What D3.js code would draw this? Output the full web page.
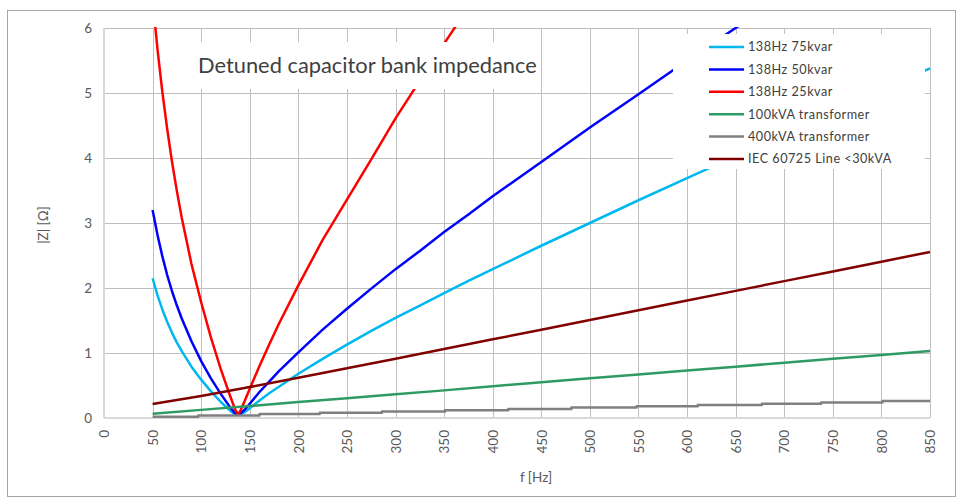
<!DOCTYPE html>
<html><head><meta charset="utf-8">
<script src="https://cdn.jsdelivr.net/npm/d3@7"></script>
<style>body{margin:0;background:#fff}svg{display:block}text{font-family:Lato,"Liberation Sans",sans-serif}</style>
</head><body>
<script>
// ---------- data ----------
const title = "Detuned capacitor bank impedance";
const xLabel = "f [Hz]";
const yLabel = "|Z| [\u03A9]";
const xTicks = [0,50,100,150,200,250,300,350,400,450,500,550,600,650,700,750,800,850];
const yTicks = [0,1,2,3,4,5,6];
const seriesNames = ["138Hz 75kvar","138Hz 50kvar","138Hz 25kvar","100kVA transformer","400kVA transformer","IEC 60725 Line <30kVA"];
const seriesColors = ["#00B8F0","#0000FF","#FF0000","#2E9A64","#808080","#800000"];

const freqCap = [50,55,60,65,70,75,80,90,100,110,120,130,135,138,140,145,150,160,170,180,200,225,250,275,300,325,350,375,400,450,500,550,600,650,700,750,800,850];
const cap75 = [2.15,1.89,1.67,1.48,1.31,1.16,1.03,0.79,0.59,0.41,0.25,0.11,0.05,0.05,0.055,0.09,0.15,0.27,0.38,0.48,0.68,0.91,1.13,1.34,1.54,1.73,1.92,2.11,2.29,2.65,3.00,3.35,3.69,4.03,4.37,4.71,5.05,5.38];
const cap50 = [3.20,2.82,2.49,2.20,1.95,1.73,1.53,1.18,0.875,0.61,0.375,0.16,0.07,0.05,0.065,0.13,0.22,0.40,0.56,0.72,1.01,1.36,1.68,1.99,2.29,2.57,2.86,3.13,3.41,3.94,4.47,4.98,5.50,6.00,6.51,null,null,null];
const cap25 = [6.45,5.68,5.02,4.45,3.94,3.49,3.08,2.37,1.78,1.24,0.76,0.33,0.13,0.06,0.10,0.27,0.45,0.80,1.13,1.45,2.04,2.74,3.36,3.98,4.61,5.19,5.76,6.32,null,null,null,null,null,null,null,null,null,null];

const freqLin = [50,100,150,200,250,300,350,400,450,500,550,600,650,700,750,800,850];
const trafo100 = [0.065,0.125,0.185,0.245,0.305,0.365,0.425,0.49,0.55,0.61,0.67,0.73,0.79,0.85,0.91,0.97,1.03];
const lineIEC = [0.215,0.337,0.476,0.619,0.766,0.913,1.061,1.21,1.359,1.508,1.657,1.807,1.956,2.106,2.255,2.405,2.555];

const freqStep = [50,97,160,222,286,351,416,481,548,611,677,738,801,850];
const trafo400 = [0.02,0.04,0.06,0.08,0.10,0.12,0.14,0.16,0.18,0.20,0.22,0.24,0.26,0.26];

// ---------- chart ----------
const W = 962, H = 503;
const svg = d3.select("body").append("svg").attr("width", W).attr("height", H);
svg.append("rect").attr("width", W).attr("height", H).attr("fill", "#fff");
svg.append("rect").attr("x", 7.5).attr("y", 10.5).attr("width", 948).attr("height", 486)
  .attr("fill", "none").attr("stroke", "#a6a6a6").attr("stroke-width", 1);

const x = d3.scaleLinear().domain([0, 850]).range([104, 930]);
const y = d3.scaleLinear().domain([0, 6]).range([418, 28]);

// gridlines
const gx = svg.append("g").attr("transform", "translate(0,418)")
  .call(d3.axisBottom(x).tickValues(xTicks.slice(1)).tickSize(-390).tickFormat(""));
gx.select(".domain").remove();
gx.selectAll("line").attr("stroke", "#bfbfbf").attr("shape-rendering", "crispEdges");
const gy = svg.append("g").attr("transform", "translate(104,0)")
  .call(d3.axisLeft(y).tickValues(yTicks.slice(1)).tickSize(-826).tickFormat(""));
gy.select(".domain").remove();
gy.selectAll("line").attr("stroke", "#bfbfbf").attr("shape-rendering", "crispEdges");

// axis lines
svg.append("line").attr("x1", x(0)).attr("x2", x(0)).attr("y1", y(6)).attr("y2", y(0))
  .attr("stroke", "#d9d9d9").attr("stroke-width", 2);
svg.append("line").attr("x1", x(0)).attr("x2", x(850)).attr("y1", y(0)).attr("y2", y(0))
  .attr("stroke", "#d9d9d9").attr("stroke-width", 2);

// tick labels
const ax = svg.append("g").attr("transform", "translate(0,418)")
  .call(d3.axisBottom(x).tickValues(xTicks).tickSize(0).tickFormat(d3.format("d")));
ax.select(".domain").remove();
ax.selectAll("text").attr("transform", "translate(0,12) rotate(-90)")
  .attr("text-anchor", "end").attr("x", 0).attr("y", 0).attr("dy", "0.35em")
  .attr("fill", "#595959").style("font-size", "13.5px").style("font-family", "Lato, sans-serif");
const ay = svg.append("g").attr("transform", "translate(104,0)")
  .call(d3.axisLeft(y).tickValues(yTicks).tickSize(0).tickPadding(12).tickFormat(d3.format("d")));
ay.select(".domain").remove();
ay.selectAll("text").attr("fill", "#595959").style("font-size", "13.5px").style("font-family", "Lato, sans-serif");

// lines
svg.append("clipPath").attr("id", "plotclip").append("rect")
  .attr("x", 104).attr("y", 27).attr("width", 830).attr("height", 392);
const plot = svg.append("g").attr("clip-path", "url(#plotclip)");
const mk = (fs, vs) => fs.map((f, i) => ({f, z: vs[i]}));
const lineGen = d3.line().defined(d => d.z != null).x(d => x(d.f)).y(d => y(d.z));
const stepGen = d3.line().curve(d3.curveStepAfter).x(d => x(d.f)).y(d => y(d.z));
const series = [
  {data: mk(freqCap, cap75), gen: lineGen},
  {data: mk(freqCap, cap50), gen: lineGen},
  {data: mk(freqCap, cap25), gen: lineGen},
  {data: mk(freqLin, trafo100), gen: lineGen},
  {data: mk(freqStep, trafo400), gen: stepGen},
  {data: mk(freqLin, lineIEC), gen: lineGen}
];
series.forEach((s, i) => {
  plot.append("path").datum(s.data).attr("d", s.gen)
    .attr("fill", "none").attr("stroke", seriesColors[i]).attr("stroke-width", 2.5)
    .attr("stroke-linejoin", "round");
});

// title box
svg.append("rect").attr("x", 186).attr("y", 42).attr("width", 354).attr("height", 47).attr("fill", "#fff");
const t = svg.append("text").attr("x", 198).attr("y", 73).attr("fill", "#404040")
  .style("font-size", "20px").text(title);
const tw = t.node().getComputedTextLength();
t.style("font-size", (20 * 339 / tw) + "px");

// legend box
svg.append("rect").attr("x", 673).attr("y", 34).attr("width", 252).attr("height", 135).attr("fill", "#fff");
const lg = svg.append("g");
seriesNames.forEach((n, i) => {
  const cy = 47 + i * 22.4;
  lg.append("line").attr("x1", 709).attr("x2", 744).attr("y1", cy).attr("y2", cy)
    .attr("stroke", seriesColors[i]).attr("stroke-width", 2.5);
  lg.append("text").attr("class", "lt").attr("x", 748).attr("y", cy).attr("dy", "0.35em")
    .attr("fill", "#404040").style("font-size", "12.5px").style("letter-spacing", "0.5px").text(n);
});
const lastW = lg.selectAll("text.lt").nodes()[5].getComputedTextLength();
lg.selectAll("text.lt").style("font-size", (12.5 * 144 / (lastW + 0)) + "px");

// axis titles
svg.append("text").attr("x", 536).attr("y", 482).attr("text-anchor", "middle")
  .attr("fill", "#595959").style("font-size", "13.5px").text(xLabel);
svg.append("text").attr("transform", "translate(43,225) rotate(-90)").attr("text-anchor", "middle")
  .attr("dy", "0.35em").attr("fill", "#595959").style("font-size", "13.5px").text(yLabel);
</script>
</body></html>
